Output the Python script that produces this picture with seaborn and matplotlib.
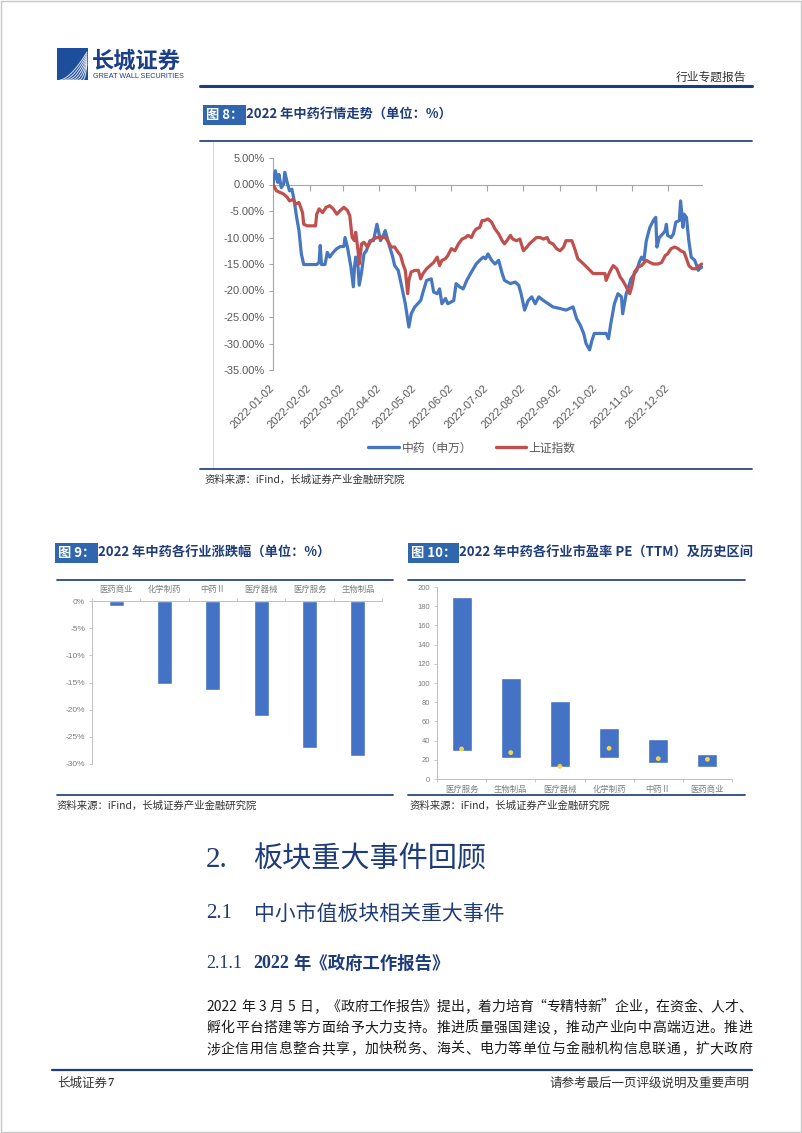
import numpy as np
import pandas as pd
import matplotlib
matplotlib.use("Agg")
import matplotlib.pyplot as plt
import seaborn as sns
from matplotlib.lines import Line2D
from matplotlib.patches import Rectangle
from matplotlib.ticker import FixedLocator

# ---------------- data ----------------
base_date = "2022-01-02"
month_ticks = ["2022-01-02", "2022-02-02", "2022-03-02", "2022-04-02", "2022-05-02", "2022-06-02",
               "2022-07-02", "2022-08-02", "2022-09-02", "2022-10-02", "2022-11-02", "2022-12-02"]
y8_ticks = [5, 0, -5, -10, -15, -20, -25, -30, -35]

# 中药（申万）: days after 2022-01-02, cumulative change %
zy_days = [0, 2, 4, 5, 7, 9, 10, 12, 14, 16, 18, 20, 22, 24, 26, 37, 39, 40, 41, 44, 46, 48, 51, 54, 57, 60,
           61, 63, 66, 68, 69, 70, 72, 73, 75, 77, 79, 82, 85, 88, 91, 94, 95, 98, 101, 103, 106, 109, 112,
           115, 117, 120, 125, 127, 130, 134, 136, 139, 141, 143, 146, 148, 153, 155, 158, 161, 164, 168,
           172, 175, 178, 180, 182, 185, 188, 191, 194, 196, 201, 205, 208, 210, 213, 216, 219, 222, 225,
           229, 233, 237, 243, 248, 251, 254, 257, 260, 263, 265, 268, 270, 272, 277, 282, 284, 286, 289,
           292, 295, 296, 299, 301, 303, 308, 310, 312, 314, 316, 319, 322, 324, 325, 327, 330, 332, 333,
           334, 337, 339, 341, 344, 345, 346, 347, 348, 350, 352, 354, 357, 360, 361, 363]
zy_vals = [0.0, 2.6, 0.4, 1.9, -0.6, 0.1, 2.3, 0.4, -1.2, -0.9, -3.1, -6.2, -8.7, -13.1, -15.1, -15.1,
           -14.7, -11.5, -15.1, -15.1, -12.8, -13.7, -12.8, -12.1, -11.7, -11.7, -10.0, -11.8, -15.6,
           -19.3, -15.6, -13.7, -15.6, -19.0, -16.5, -13.1, -12.5, -10.6, -10.6, -7.5, -10.6, -9.3, -8.7,
           -11.2, -13.4, -15.3, -16.2, -19.3, -22.5, -26.9, -24.4, -23.1, -21.9, -20.3, -18.1, -17.8,
           -20.3, -20.6, -19.7, -22.5, -21.5, -22.5, -21.9, -18.7, -19.3, -19.7, -18.1, -16.5, -15.0,
           -14.3, -13.7, -14.0, -13.1, -14.3, -15.0, -14.3, -16.8, -18.1, -18.7, -18.4, -19.0, -20.6,
           -23.7, -21.9, -21.2, -22.5, -21.2, -21.9, -22.5, -23.1, -23.4, -23.7, -23.4, -23.1, -25.3,
           -26.5, -28.1, -30.0, -31.2, -29.4, -28.1, -28.1, -28.1, -29.1, -26.2, -22.5, -20.6, -21.2,
           -24.4, -20.6, -19.3, -17.8, -16.2, -14.7, -13.7, -14.3, -10.6, -8.1, -6.8, -6.2, -11.8, -10.0,
           -9.3, -8.7, -7.5, -9.6, -10.0, -9.3, -7.1, -6.8, -3.1, -5.3, -8.1, -5.6, -6.2, -10.6, -13.7,
           -14.3, -16.2, -15.9, -15.6]

# 上证指数
sz_days = [0, 3, 6, 9, 12, 14, 17, 19, 22, 25, 26, 29, 36, 37, 39, 42, 45, 48, 51, 54, 57, 60, 63, 65, 67,
           69, 70, 72, 73, 75, 77, 80, 83, 85, 88, 92, 95, 97, 100, 103, 105, 108, 110, 112, 114, 115, 117,
           120, 123, 125, 127, 130, 133, 136, 139, 141, 143, 146, 148, 151, 154, 157, 160, 163, 165, 168,
           170, 172, 175, 177, 179, 182, 185, 188, 191, 194, 196, 198, 201, 203, 206, 209, 212, 215, 217,
           220, 223, 226, 229, 232, 234, 237, 240, 243, 246, 248, 253, 256, 258, 263, 267, 271, 277, 281,
           282, 285, 288, 291, 294, 296, 299, 302, 304, 306, 309, 312, 316, 319, 322, 326, 329, 332, 334,
           337, 340, 343, 345, 348, 350, 352, 355, 358, 361, 363]
sz_vals = [0.0, -1.2, -1.5, -1.8, -2.4, -3.1, -2.8, -3.7, -3.4, -5.3, -7.5, -7.8, -7.8, -5.6, -4.6, -5.3,
           -4.3, -4.0, -4.6, -5.6, -4.9, -4.3, -4.9, -5.9, -10.0, -10.6, -9.0, -12.5, -15.0, -11.2, -10.9,
           -11.8, -10.6, -10.3, -10.0, -10.0, -10.0, -10.6, -11.8, -11.8, -12.5, -13.4, -15.0, -16.2,
           -20.6, -18.1, -16.5, -16.2, -16.2, -17.8, -16.8, -15.9, -15.3, -14.7, -13.7, -15.3, -14.3,
           -14.0, -13.4, -12.1, -12.5, -11.2, -10.3, -10.0, -9.6, -10.0, -9.0, -8.4, -8.1, -6.8, -6.8,
           -6.5, -7.1, -8.4, -9.3, -10.6, -11.2, -10.6, -9.6, -10.3, -10.6, -10.3, -12.5, -11.8, -11.2,
           -10.6, -10.0, -10.0, -10.3, -10.0, -10.9, -11.2, -12.1, -12.5, -11.8, -10.6, -10.6, -12.5,
           -14.0, -15.0, -15.9, -16.8, -16.8, -16.8, -18.1, -16.5, -15.3, -15.9, -17.5, -18.1, -19.3,
           -20.6, -19.0, -16.5, -15.6, -15.3, -14.3, -14.7, -15.0, -15.0, -14.7, -13.4, -13.1, -12.1,
           -11.8, -12.1, -12.5, -12.8, -14.0, -15.3, -15.9, -15.9, -15.3, -15.0]
series_names = ["中药（申万）", "上证指数"]

# 图9
cats9 = ["医药商业", "化学制药", "中药Ⅱ", "医疗器械", "医疗服务", "生物制品"]
vals9 = [-0.9, -15.3, -16.3, -21.2, -27.0, -28.6]
y9_ticks = [0, -5, -10, -15, -20, -25, -30]

# 图10
cats10 = ["医疗服务", "生物制品", "医疗器械", "化学制药", "中药Ⅱ", "医药商业"]
pe_low = [28.9, 21.9, 12.2, 21.6, 17.0, 12.5]
pe_high = [189.2, 105.4, 81.4, 53.2, 42.1, 25.7]
pe_now = [31.3, 27.5, 13.2, 32.0, 21.2, 20.5]
y10_ticks = [0, 20, 40, 60, 80, 100, 120, 140, 160, 180, 200]

body_lines = [
    "2022 年 3 月 5 日，《政府工作报告》提出，着力培育“专精特新”企业，在资金、人才、",
    "孵化平台搭建等方面给予大力支持。推进质量强国建设，推动产业向中高端迈进。推进",
    "涉企信用信息整合共享，加快税务、海关、电力等单位与金融机构信息联通，扩大政府",
]

# ---------------- style ----------------
sns.set_theme(style="white")
plt.rcParams["font.family"] = ["Noto Sans CJK SC", "DejaVu Sans"]
plt.rcParams["axes.unicode_minus"] = False

BLUE = "#4677BF"
RED = "#C0504D"
BAR = "#4472C4"
DOT = "#F2D64B"
NAVY = "#1F3C7A"
LINE_NAVY = "#2A4A86"
GRAY_AX = "#A6A6A6"
GRAY_TXT = "#595959"
BOX = "#2F66AE"

W, H = 802, 1133
fig = plt.figure(figsize=(W / 100, H / 100), dpi=100)
fig.patch.set_facecolor("white")
renderer = fig.canvas.get_renderer()


def fx(x):
    return x / W


def fy(y):
    return 1 - y / H


def hline(x0, x1, y, color=LINE_NAVY, lw=1.2):
    fig.add_artist(Line2D([fx(x0), fx(x1)], [fy(y), fy(y)], transform=fig.transFigure, color=color, lw=lw))


def ftext(x, y, s, **kw):
    kw.setdefault("va", "center")
    return fig.text(fx(x), fy(y), s, **kw)


def seq_text(x, y, parts, gap=0):
    """place text pieces one after another"""
    for s, kw in parts:
        t = ftext(x, y, s, **kw)
        bb = t.get_window_extent(renderer)
        x += bb.width + gap
    return x


def justify(line, x0, x1, y, space_px=4.0, **kw):
    # tokens: digit runs, single characters; a space adds fixed extra width
    tokens = []
    buf = ""
    for ch in line:
        if ch.isascii() and ch.isdigit():
            buf += ch
            continue
        if buf:
            tokens.append(buf)
            buf = ""
        tokens.append(None if ch == " " else ch)
    if buf:
        tokens.append(buf)
    items = []  # (text_artist or None, width)
    for tk in tokens:
        if tk is None:
            items.append((None, space_px))
        else:
            t = ftext(0, y, tk, **kw)
            items.append((t, t.get_window_extent(renderer).width))
    n_text = sum(1 for t, _ in items if t is not None)
    total = sum(w for _, w in items)
    gap = ((x1 - x0) - total) / (n_text - 1)
    x = x0
    for t, w in items:
        if t is None:
            x += w
        else:
            t.set_x(fx(x))
            x += w + gap


# page border
fig.add_artist(Rectangle((0.0008, 0.0005), 0.9984, 0.999, transform=fig.transFigure,
                         fill=False, ec="#C8C8C8", lw=1.0))

# ---------------- header ----------------
fig.add_artist(Rectangle((fx(57), fy(80)), 31 / W, 32 / H, transform=fig.transFigure,
                         fc="#1C4E9C", ec="none"))
tt = np.linspace(0, 1, 20)
for i in range(7):
    xs = 60 + 3.8 * i + (27 - 3.8 * i) * tt
    ys = 80 - (28 - 2 * i) * tt ** (1.6 + 0.1 * i)
    fig.add_artist(Line2D(fx(xs), fy(ys), transform=fig.transFigure, color="white", lw=0.7, alpha=0.85))
ftext(92, 61, "长城证券", fontsize=16, fontweight="bold", color="#1B3F8B")
ftext(93, 77, "GREAT WALL SECURITIES", fontsize=5.2, color="#1B3F8B", family="Liberation Sans")
ftext(746, 77, "行业专题报告", fontsize=8.5, color="#333333", ha="right")
hline(200, 752, 86, color=NAVY, lw=2.2)


def fig_title(x, y, label, text):
    t = ftext(x, y, label, color="white", fontsize=9.5, fontweight="bold",
              bbox=dict(boxstyle="square,pad=0.2", fc=BOX, ec="none"))
    w = t.get_window_extent(renderer).width
    ftext(x + w + 3, y, text, color=NAVY, fontsize=9.5, fontweight="bold")


# ---------------- 图8 ----------------
fig_title(206, 115, "图 8：", "2022 年中药行情走势（单位：%）")
hline(200, 752, 141, color=LINE_NAVY, lw=1.3)
fig.add_artist(Line2D([fx(213), fx(213)], [fy(142), fy(468)], transform=fig.transFigure,
                      color="#D9D9D9", lw=0.8))

ax1 = fig.add_axes([fx(273), fy(370), (703 - 273) / W, (370 - 158) / H])
start = pd.Timestamp(base_date)
df_zy = pd.DataFrame({"date": start + pd.to_timedelta(zy_days, unit="D"), "val": zy_vals})
df_sz = pd.DataFrame({"date": start + pd.to_timedelta(sz_days, unit="D"), "val": sz_vals})
sns.lineplot(data=df_zy, x="date", y="val", ax=ax1, color=BLUE, lw=2.3, estimator=None, sort=False, zorder=3)
sns.lineplot(data=df_sz, x="date", y="val", ax=ax1, color=RED, lw=2.3, estimator=None, sort=False, zorder=4)
ax1.set_xlim(start, start + pd.Timedelta(days=364))
ax1.set_ylim(min(y8_ticks), max(y8_ticks))
mt = pd.to_datetime(month_ticks)
ax1.set_xticks(mt)
ax1.set_xticklabels(month_ticks, rotation=45, ha="right", va="center", rotation_mode="anchor",
                    fontsize=8, color=GRAY_TXT, family="Liberation Sans")
ax1.tick_params(axis="x", length=0, pad=12)
ax1.set_yticks(y8_ticks)
ax1.set_yticklabels([f"{v:.2f}%" for v in y8_ticks], fontsize=8, color=GRAY_TXT, family="Liberation Sans")
ax1.tick_params(axis="y", left=True, length=3, width=0.8, color=GRAY_AX, pad=3)
for s in ["top", "right", "bottom"]:
    ax1.spines[s].set_visible(False)
ax1.spines["left"].set_color(GRAY_AX)
ax1.spines["left"].set_linewidth(0.8)
ax1.axhline(0, color=GRAY_AX, lw=0.8, zorder=1)
ax1.plot(mt, np.zeros(len(mt)), ls="none", marker=3, ms=4, mec=GRAY_AX, mew=0.8, zorder=1)
ax1.set_xlabel("")
ax1.set_ylabel("")
ax1.patch.set_alpha(0)

handles = [Line2D([], [], color=BLUE, lw=2.4), Line2D([], [], color=RED, lw=2.4)]
fig.legend(handles, series_names, loc="center", bbox_to_anchor=(fx(472), fy(448)), ncol=2, frameon=False,
           fontsize=8.5, handlelength=2.6, columnspacing=2.0, handletextpad=0.2, labelcolor=GRAY_TXT)

hline(200, 752, 469, color=LINE_NAVY, lw=1.3)
ftext(205, 480, "资料来源：iFind，长城证券产业金融研究院", fontsize=7.5, style="italic", color="#333333")

# ---------------- 图9 ----------------
fig_title(58, 553, "图 9：", "2022 年中药各行业涨跌幅（单位：%）")
hline(57, 393, 580, color=LINE_NAVY, lw=1.3)
ax2 = fig.add_axes([fx(92), fy(764), (382 - 92) / W, (764 - 601) / H])
sns.barplot(x=cats9, y=vals9, ax=ax2, color=BAR, width=0.31, saturation=1)
ax2.set_ylim(min(y9_ticks), max(y9_ticks))
ax2.set_xlim(-0.5, len(cats9) - 0.5)
ax2.xaxis.tick_top()
ax2.tick_params(axis="x", which="major", top=True, length=0, labelsize=6, labelcolor="#7F7F7F", pad=5)
ax2.xaxis.set_minor_locator(FixedLocator(np.arange(-0.5, len(cats9), 1.0)))
ax2.tick_params(axis="x", which="minor", top=True, bottom=False, length=2.5, width=0.6, color="#BFBFBF")
ax2.set_yticks(y9_ticks)
ax2.set_yticklabels([f"{v}%" for v in y9_ticks], fontsize=6, color="#7F7F7F", family="Liberation Sans")
ax2.tick_params(axis="y", left=True, length=2, width=0.6, color="#BFBFBF", pad=3)
for s in ["bottom", "right"]:
    ax2.spines[s].set_visible(False)
for s in ["top", "left"]:
    ax2.spines[s].set_color("#BFBFBF")
    ax2.spines[s].set_linewidth(0.7)
ax2.set_xlabel("")
ax2.set_ylabel("")
hline(57, 393, 795, color=LINE_NAVY, lw=1.3)
ftext(57, 806, "资料来源：iFind，长城证券产业金融研究院", fontsize=7.5, style="italic", color="#333333")

# ---------------- 图10 ----------------
fig_title(411, 553, "图 10：", "2022 年中药各行业市盈率 PE（TTM）及历史区间")
hline(408, 745, 580, color=LINE_NAVY, lw=1.3)
ax3 = fig.add_axes([fx(437), fy(779), (732 - 437) / W, (779 - 587) / H])
pe_span = [h - l for h, l in zip(pe_high, pe_low)]
sns.barplot(x=cats10, y=pe_span, bottom=pe_low, ax=ax3, color=BAR, width=0.41, saturation=1)
sns.scatterplot(x=cats10, y=pe_now, ax=ax3, color=DOT, s=12, edgecolor="none", zorder=5)
ax3.set_ylim(min(y10_ticks), max(y10_ticks))
ax3.set_xlim(-0.5, len(cats10) - 0.5)
ax3.set_yticks(y10_ticks)
ax3.set_yticklabels([str(v) for v in y10_ticks], fontsize=5.5, color="#7F7F7F", family="Liberation Sans")
ax3.tick_params(axis="y", left=True, length=2, width=0.6, color="#BFBFBF", pad=3)
ax3.tick_params(axis="x", which="major", length=0, labelsize=6, labelcolor="#7F7F7F", pad=4)
ax3.xaxis.set_minor_locator(FixedLocator(np.arange(-0.5, len(cats10), 1.0)))
ax3.tick_params(axis="x", which="minor", bottom=True, length=2.5, width=0.6, color="#BFBFBF")
for s in ["top", "right"]:
    ax3.spines[s].set_visible(False)
for s in ["bottom", "left"]:
    ax3.spines[s].set_color("#BFBFBF")
    ax3.spines[s].set_linewidth(0.7)
ax3.set_xlabel("")
ax3.set_ylabel("")
hline(408, 745, 795, color=LINE_NAVY, lw=1.3)
ftext(410, 806, "资料来源：iFind，长城证券产业金融研究院", fontsize=7.5, style="italic", color="#333333")

# ---------------- text section ----------------
ftext(206, 860, "2.", fontsize=21, color=NAVY, family="Liberation Serif")
ftext(253, 860, "板块重大事件回顾", fontsize=21, color=NAVY)
ftext(206, 914, "2.1", fontsize=15, color=NAVY, family="Liberation Serif")
ftext(254, 914, "中小市值板块相关重大事件", fontsize=15, color=NAVY)
seq_text(206, 964, [("2.1.1", dict(fontsize=13, color=NAVY, family="Liberation Serif"))])
x = seq_text(253, 964, [("2022", dict(fontsize=13, color=NAVY, family="Liberation Serif", fontweight="bold"))])
ftext(x + 5, 964, "年《政府工作报告》", fontsize=12.5, color=NAVY, fontweight="bold")

for i, line in enumerate(body_lines):
    justify(line, 206, 752, 1007 + 21 * i, fontsize=10, color="#1A1A1A")

hline(52, 752, 1070, color=NAVY, lw=1.6)
seq_text(57, 1083, [("长城证券", dict(fontsize=9, color="#333333")),
                    ("7", dict(fontsize=9, color="#333333", family="Liberation Serif", fontweight="bold"))])
ftext(750, 1083, "请参考最后一页评级说明及重要声明", fontsize=9, color="#333333", ha="right")

fig.savefig("out.png", dpi=100, facecolor="white")
